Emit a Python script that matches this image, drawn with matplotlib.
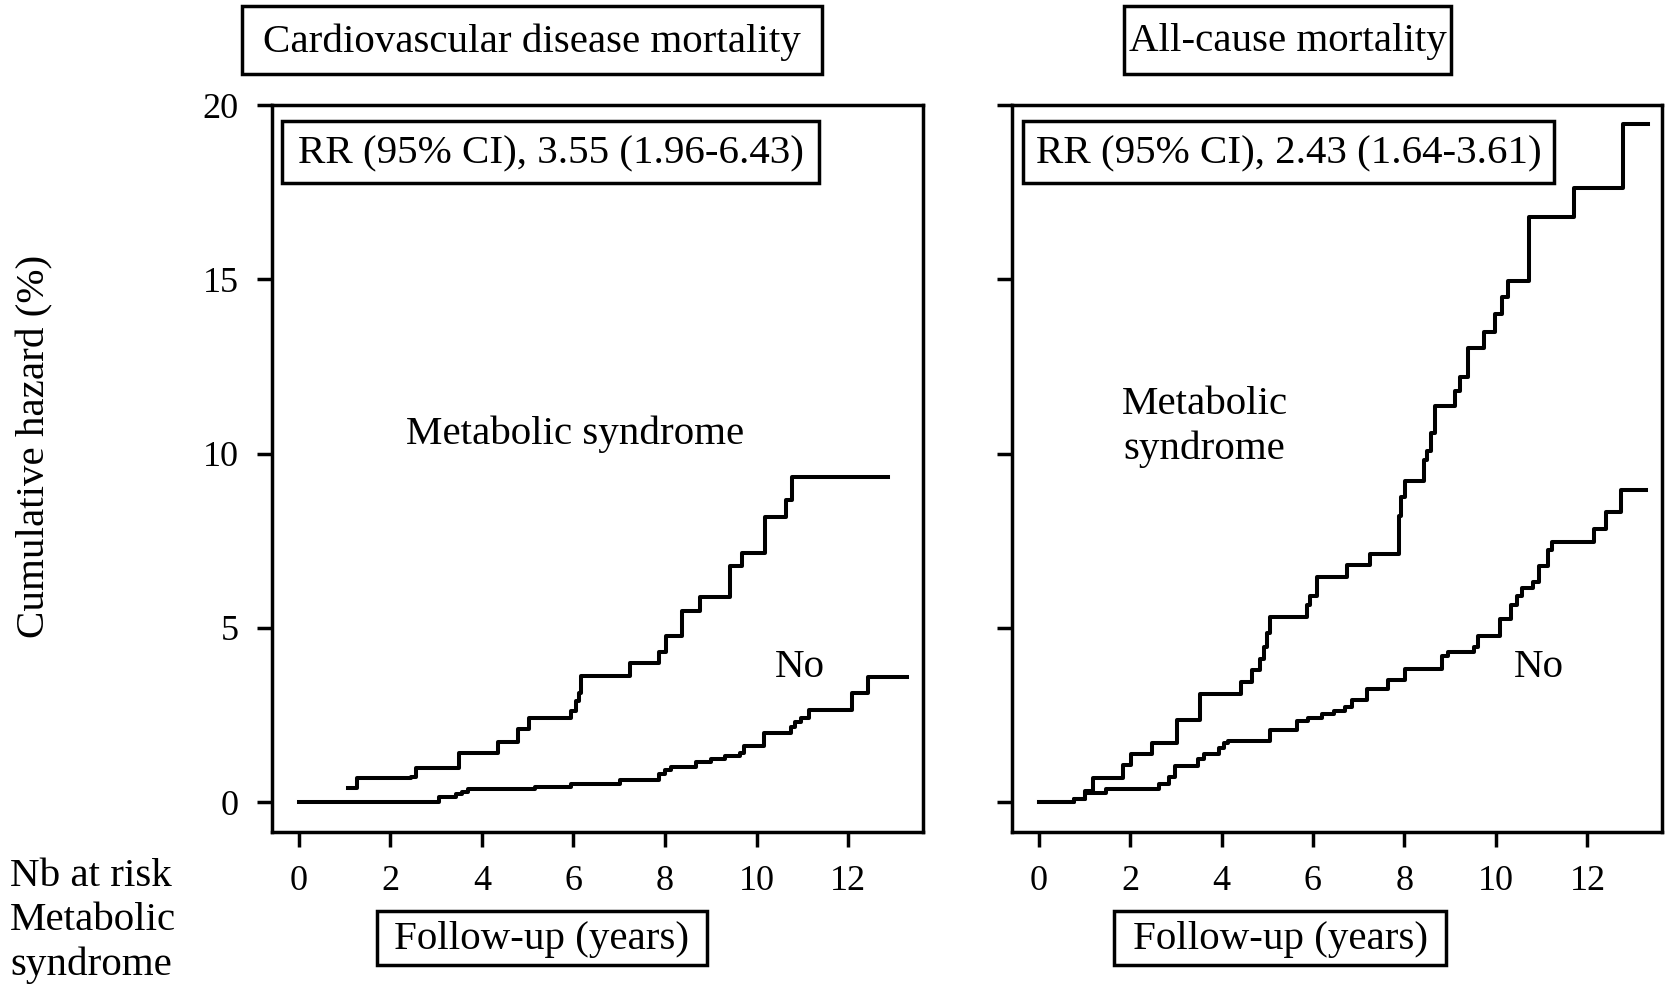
import matplotlib
matplotlib.use("Agg")
import matplotlib.pyplot as plt
from matplotlib.patches import Rectangle

plt.rcParams['font.family'] = ['Liberation Serif', 'DejaVu Serif']

# ---------------- data ----------------
panel_titles = ["Cardiovascular disease mortality", "All-cause mortality"]
rr_labels = ["RR (95% CI), 3.55 (1.96-6.43)", "RR (95% CI), 2.43 (1.64-3.61)"]
x_ticks = [0, 2, 4, 6, 8, 10, 12]
y_ticks = [0, 5, 10, 15, 20]

# CVD mortality, metabolic syndrome (step times, cumulative hazard %)
cvd_ms_t = [1.08, 1.28, 2.46, 2.57, 3.50, 4.36, 4.78, 5.04, 5.95, 6.05, 6.13, 6.17,
            7.24, 7.87, 8.03, 8.37, 8.77, 9.41, 9.68, 10.19, 10.65, 10.76, 12.87]
cvd_ms_h = [0.39, 0.70, 0.72, 0.98, 1.42, 1.73, 2.09, 2.40, 2.60, 2.90, 3.12, 3.62,
            3.98, 4.30, 4.77, 5.48, 5.87, 6.78, 7.14, 8.19, 8.67, 9.32, 9.32]
# CVD mortality, no metabolic syndrome
cvd_no_t = [0.02, 3.06, 3.43, 3.56, 3.70, 5.17, 5.95, 7.01, 7.87, 8.00, 8.12, 8.67,
            9.00, 9.30, 9.64, 9.72, 10.15, 10.34, 10.74, 10.84, 10.97, 11.15, 12.09,
            12.44, 13.27]
cvd_no_h = [0.00, 0.15, 0.22, 0.30, 0.37, 0.44, 0.51, 0.64, 0.80, 0.92, 1.01, 1.16,
            1.24, 1.32, 1.40, 1.61, 1.97, 1.97, 2.16, 2.30, 2.40, 2.64, 3.12,
            3.58, 3.58]

# All-cause mortality, metabolic syndrome
all_ms_t = [0.02, 0.77, 1.01, 1.19, 1.85, 2.03, 2.48, 3.03, 3.53, 4.42, 4.67, 4.85,
            4.93, 5.00, 5.07, 5.86, 5.93, 6.09, 6.75, 7.24, 7.87, 7.92, 8.01, 8.43,
            8.50, 8.57, 8.66, 9.11, 9.22, 9.39, 9.74, 9.97, 10.14, 10.27, 10.72,
            11.70, 12.78, 13.33]
all_ms_h = [0.00, 0.10, 0.33, 0.70, 1.06, 1.39, 1.68, 2.36, 3.09, 3.45, 3.78, 4.11,
            4.44, 4.84, 5.31, 5.64, 5.90, 6.46, 6.79, 7.12, 8.22, 8.75, 9.22, 9.81,
            10.08, 10.60, 11.37, 11.80, 12.20, 13.02, 13.49, 13.99, 14.48, 14.96,
            16.80, 17.61, 19.45, 19.45]
# All-cause mortality, no metabolic syndrome
all_no_t = [0.02, 0.77, 1.01, 1.47, 2.64, 2.85, 2.99, 3.48, 3.62, 3.95, 4.05, 4.14,
            5.07, 5.66, 5.90, 6.20, 6.45, 6.70, 6.85, 7.17, 7.64, 8.01, 8.81, 8.95,
            9.51, 9.60, 10.09, 10.33, 10.46, 10.58, 10.80, 10.95, 11.14, 11.23,
            12.14, 12.40, 12.73, 13.29]
all_no_h = [0.00, 0.10, 0.27, 0.37, 0.53, 0.73, 1.03, 1.23, 1.39, 1.55, 1.68, 1.76,
            2.06, 2.32, 2.42, 2.52, 2.62, 2.72, 2.94, 3.25, 3.51, 3.82, 4.20, 4.31,
            4.44, 4.77, 5.24, 5.64, 5.90, 6.14, 6.30, 6.76, 7.23, 7.45,
            7.82, 8.32, 8.95, 8.95]

series = [(cvd_ms_t, cvd_ms_h, cvd_no_t, cvd_no_h),
          (all_ms_t, all_ms_h, all_no_t, all_no_h)]

# ---------------- layout ----------------
W, H = 1667, 985
fig = plt.figure(figsize=(W / 100, H / 100), dpi=100)

def fx(px):
    return px / W

def fy(py):
    return 1 - py / H

axes_px = [(272, 923), (1012, 1662)]
top_px, bot_px = 105, 832
lw_curve = 2.9
lw_axis = 2.5
fs_tick = 26
fs_text = 29.5

label_pos = [((6.03, 10.56), "Metabolic syndrome", (10.95, 3.85)),
             ((3.63, 10.75), "Metabolic\nsyndrome", (10.93, 3.85))]

for i, (x0, x1) in enumerate(axes_px):
    ax = fig.add_axes([fx(x0), fy(bot_px), fx(x1 - x0), (bot_px - top_px) / H])
    ms_t, ms_h, no_t, no_h = series[i]
    ax.step(ms_t, ms_h, where='post', color='black', lw=lw_curve)
    ax.step(no_t, no_h, where='post', color='black', lw=lw_curve)
    ax.set_xlim(-0.58, 13.63)
    ax.set_ylim(-0.86, 20)
    ax.set_xticks(x_ticks)
    ax.set_yticks(y_ticks)
    ax.tick_params(direction='out', length=11, width=lw_axis, labelsize=fs_tick,
                   pad=13, color='black')
    if i == 1:
        ax.set_yticklabels([])
    for s in ax.spines.values():
        s.set_linewidth(lw_axis)
        s.set_color('black')
    (mx, my), mtxt, (nx, ny) = label_pos[i]
    ax.text(mx, my, mtxt, ha='center', va='center', fontsize=fs_text,
            linespacing=1.27)
    ax.text(nx, ny, "No", ha='center', va='center', fontsize=fs_text)

# ---------------- boxed labels ----------------
boxes = [
    (242, 822, 6, 74, panel_titles[0]),
    (1124, 1451, 6, 74, panel_titles[1]),
    (282, 819, 121, 183, rr_labels[0]),
    (1023, 1554, 121, 183, rr_labels[1]),
    (377, 707, 911, 965, "Follow-up (years)"),
    (1114, 1446, 911, 965, "Follow-up (years)"),
]
for (bx0, bx1, by0, by1, txt) in boxes:
    fig.patches.append(Rectangle((fx(bx0), fy(by1)), fx(bx1 - bx0), (by1 - by0) / H,
                                 transform=fig.transFigure, fill=False,
                                 edgecolor='black', linewidth=lw_axis, zorder=5))
    fig.text(fx((bx0 + bx1) / 2), fy((by0 + by1) / 2 + 2), txt, ha='center',
             va='center', fontsize=fs_text, zorder=6)

fig.text(fx(35), fy(446), "Cumulative hazard (%)", rotation=90, ha='center',
         va='center', fontsize=fs_text)
fig.text(fx(10), fy(921), "Nb at risk\nMetabolic\nsyndrome", ha='left',
         va='center', fontsize=fs_text, linespacing=1.25)

fig.savefig("out.png", dpi=100)
